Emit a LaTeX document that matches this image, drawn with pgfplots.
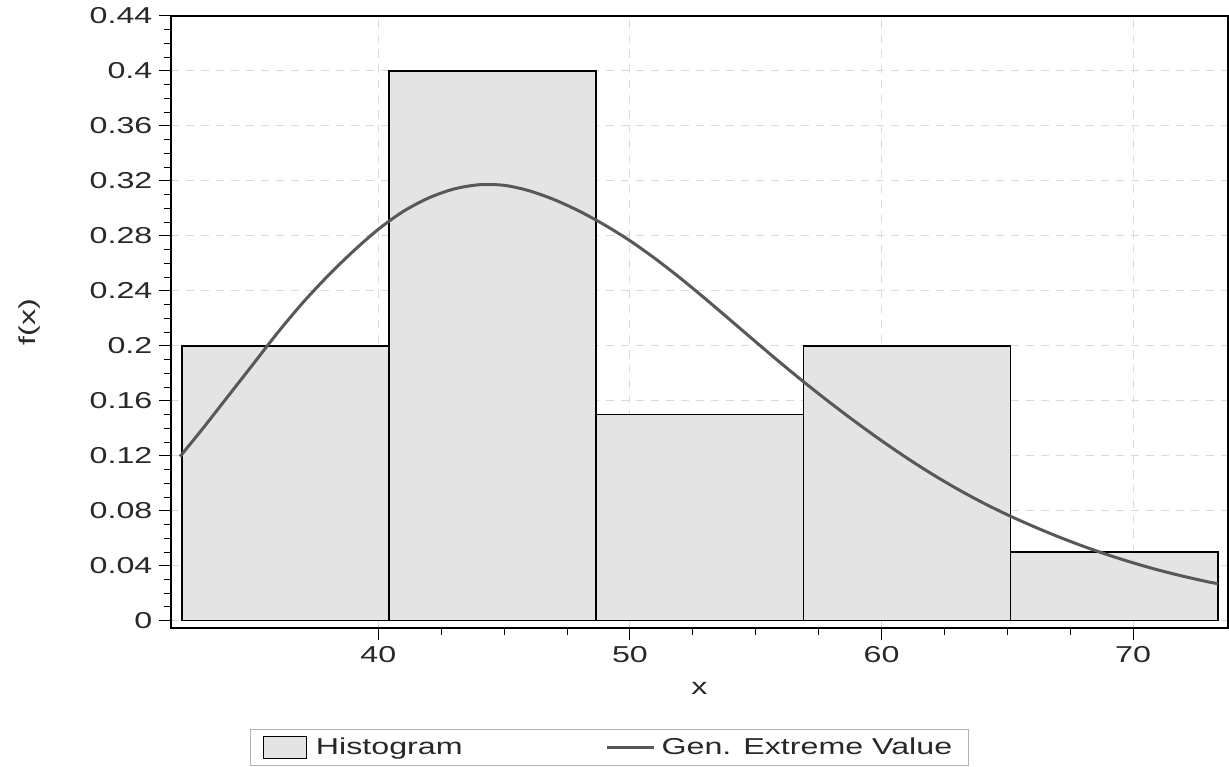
\documentclass[border=0pt]{standalone}
\usepackage{fontspec}
\setmainfont{Liberation Sans}[FakeStretch=1.4]
\usepackage{pgfplots}
\pgfplotsset{compat=1.18}
\definecolor{barfill}{RGB}{228,228,228}
\definecolor{linecol}{RGB}{88,88,88}
\definecolor{gridcol}{RGB}{218,218,218}
\definecolor{txt}{RGB}{40,40,40}
\begin{document}
\begin{tikzpicture}
\begin{axis}[
  name=ax,
  scale only axis,
  width=528.5pt, height=306pt,
  xmin=31.76, xmax=73.77,
  ymin=-0.0053, ymax=0.44,
  xtick={40,50,60,70},
  minor x tick num=3,
  ytick={0,0.04,...,0.441},
  minor y tick num=3,
  xtick pos=bottom, ytick pos=left,
  tick align=outside,
  major tick length=5.8pt,
  minor tick length=3.3pt,
  every tick/.style={black, line width=0.5pt},
  axis line style={black, line width=0.75pt},
  grid=major,
  major grid style={gridcol, line width=0.5pt, dash pattern=on 4pt off 3.5pt},
  y tick label style={/pgf/number format/.cd, fixed, precision=2, assume math mode=true},
  x tick label style={/pgf/number format/assume math mode=true},
  scaled y ticks=false,
  tick label style={font=\fontsize{11.5}{13}\selectfont, text=txt},
  label style={font=\fontsize{11.5}{13}\selectfont, text=txt},
  xlabel={x},
  ylabel={f(x)},
  xlabel style={at={(axis description cs:0.5,-0.098)}, anchor=center},
  ylabel style={at={(axis description cs:-0.1334,0.5)}, anchor=center, rotate=0},
  legend columns=2,
  legend style={at={(axis description cs:0.0747,-0.165)}, anchor=north west,
    draw=gray!60, line width=0.6pt, inner xsep=6pt, inner ysep=2pt,
    font=\fontsize{11.5}{13}\selectfont, text=txt,
    /tikz/every even column/.append style={column sep=69.5pt},
    /tikz/every odd column/.append style={column sep=1pt}},
]
\addplot[ybar interval, fill=barfill, draw=black, line width=0.75pt,
  legend image code/.code={\draw[fill=barfill,draw=black,line width=0.6pt] (0pt,-5.5pt) rectangle (21.5pt,5.5pt);\path (23pt,0pt);}]
  coordinates {(32.19,0.2) (40.43,0.4) (48.66,0.15) (56.90,0.2) (65.13,0.05) (73.37,0.05)};
\addlegendentry{Histogram}
\addplot[linecol, line width=1.5pt, smooth,
  legend image code/.code={\draw[linecol,line width=1.5pt] (0pt,0pt) -- (23.5pt,0pt);}]
  coordinates {
(32.12,0.1195) (33,0.1393) (34,0.1627) (35,0.1861) (36,0.2096) (37,0.2314)
(38,0.2510) (39,0.2688) (40,0.2848) (41,0.2979) (42,0.3076) (43,0.3141)
(44,0.3172) (45,0.3168) (46,0.3128) (47,0.3063) (48,0.2979) (49,0.2879)
(50,0.2765) (51,0.2635) (52,0.2493) (53,0.2342) (54,0.2186) (55,0.2029)
(56,0.1874) (57,0.1724) (58,0.1580) (59,0.1442) (60,0.1310) (61,0.1185)
(62,0.1068) (63,0.0960) (64,0.0861) (65,0.0771) (66,0.0689) (67,0.0613)
(68,0.0543) (69,0.0479) (70,0.0421) (71,0.0369) (72,0.0323) (73,0.0282)
(73.37,0.0270)};
\addlegendentry{Gen. Extreme Value}
\end{axis}
\pgfresetboundingbox
\path ([xshift=-85.5pt,yshift=-69pt]ax.south west) rectangle ([xshift=0.5pt,yshift=8pt]ax.north east);
\end{tikzpicture}
\end{document}
